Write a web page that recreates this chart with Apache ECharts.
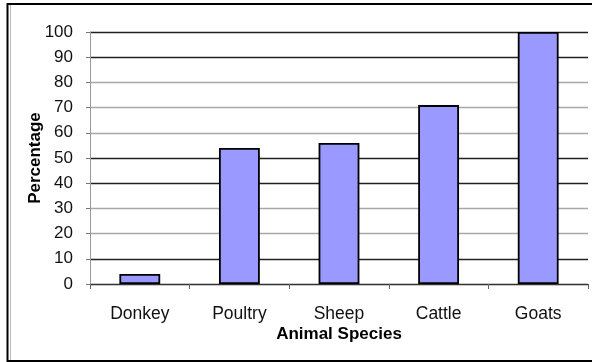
<!DOCTYPE html>
<html>
<head>
<meta charset="utf-8">
<script src="https://cdn.jsdelivr.net/npm/echarts@6/dist/echarts.min.js"></script>
<style>
  html, body { margin: 0; padding: 0; background: #fff; }
  #chart { width: 592px; height: 362px; }
</style>
</head>
<body>
<div id="chart"></div>
<script>
// Share of households keeping each animal species (%)
const species = ['Donkey', 'Poultry', 'Sheep', 'Cattle', 'Goats'];
const percentages = [4, 54, 56, 71, 100];
const yTicks = [0, 10, 20, 30, 40, 50, 60, 70, 80, 90, 100];

const FONT = '"Liberation Sans", Arial, sans-serif';

// Gridline shades, one per tick from 0 upwards
const gridShades = ['#222', '#222', '#a8a8a8', '#a8a8a8', '#222', '#222',
                    '#a8a8a8', '#a8a8a8', '#a8a8a8', '#222', '#222'];

const chart = echarts.init(document.getElementById('chart'), null, { renderer: 'canvas' });

chart.setOption({
  animation: false,
  backgroundColor: '#fff',
  grid: { left: 90, right: 4, top: 32, bottom: 78, containLabel: false },
  xAxis: {
    type: 'category',
    data: species,
    name: 'Animal Species',
    nameLocation: 'middle',
    nameGap: 42,
    nameMoveOverlap: false,
    nameTextStyle: { fontFamily: FONT, fontSize: 17, fontWeight: 'bold', color: '#000' },
    axisLine: { show: true, lineStyle: { color: '#333', width: 1.2 } },
    axisTick: { show: true, length: 5, interval: 0, lineStyle: { color: '#666' } },
    axisLabel: { margin: 21, fontFamily: FONT, fontSize: 17.5, color: '#111', interval: 0 },
    splitLine: { show: false }
  },
  yAxis: {
    type: 'value',
    min: yTicks[0],
    max: yTicks[yTicks.length - 1],
    interval: yTicks[1] - yTicks[0],
    name: 'Percentage',
    nameLocation: 'middle',
    nameGap: 46,
    nameRotate: 90,
    nameMoveOverlap: false,
    nameTextStyle: { fontFamily: FONT, fontSize: 17, fontWeight: 'bold', color: '#000' },
    axisLine: { show: true, lineStyle: { color: '#999', width: 1 } },
    axisTick: { show: true, length: 4, lineStyle: { color: '#777' } },
    axisLabel: { margin: 17, fontFamily: FONT, fontSize: 17, color: '#111' },
    splitLine: { show: true, lineStyle: { color: gridShades, width: 1.3 } }
  },
  series: [{
    type: 'bar',
    data: percentages,
    barWidth: '41%',
    itemStyle: { color: '#9999ff', borderColor: '#000', borderWidth: 1.8 }
  }],
  graphic: [
    {
      type: 'polyline',
      shape: { points: [[600, 4], [7.5, 4], [7.5, 361], [600, 361]] },
      style: { stroke: '#000', lineWidth: 2, fill: null },
      silent: true
    },
    {
      type: 'line',
      shape: { x1: 10.5, y1: 5, x2: 10.5, y2: 360 },
      style: { stroke: '#bbb', lineWidth: 1 },
      silent: true
    }
  ]
});
</script>
</body>
</html>
